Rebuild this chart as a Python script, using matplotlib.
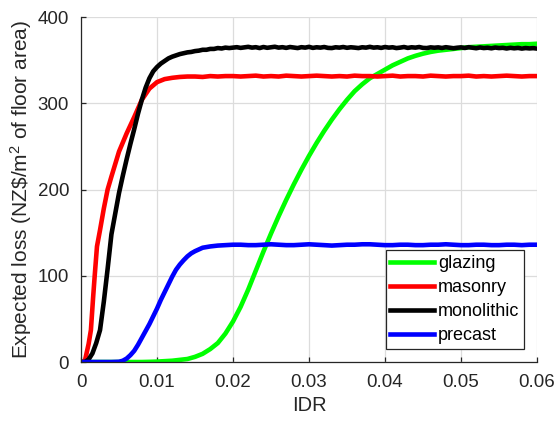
import numpy as np
import matplotlib
matplotlib.use('Agg')
import matplotlib.pyplot as plt

plt.rcParams['font.family'] = ['Liberation Sans', 'DejaVu Sans']
plt.rcParams['mathtext.fontset'] = 'custom'
plt.rcParams['mathtext.rm'] = 'Liberation Sans'
plt.rcParams['mathtext.it'] = 'Liberation Sans'

# --- data ---
# glazing, sampled every 0.001 from 0 to 0.06
glazing_x = np.linspace(0, 0.06, 61)
glazing_y = [0, 0, 0, 0, 0, 0, 0, 0, 0, 0.2,
             0.5, 1, 1.5, 2.5, 3.5, 6, 9.5, 15, 22, 33,
             47, 64, 84, 106, 128, 149, 169, 188, 206, 223,
             239, 254, 268, 281, 293, 304, 314, 322, 329, 334,
             339, 344, 348, 352, 355, 357.5, 359.5, 361, 362, 363,
             364, 365, 365.5, 366, 366.5, 367, 367.5, 368, 368.5, 368.5,
             369]

# masonry: rising part, then plateau every 0.001 from 0.02
masonry_x_rise = [0, 0.0005, 0.001, 0.0013, 0.0016, 0.0018, 0.0021, 0.0025,
                  0.003, 0.0035, 0.004, 0.005, 0.006, 0.007, 0.008, 0.009,
                  0.010, 0.011, 0.012, 0.013, 0.014, 0.015, 0.016, 0.017,
                  0.018, 0.019]
masonry_y_rise = [0, 1, 21, 37, 76, 100, 134, 153,
                  178, 200, 215, 244, 265, 284, 304, 317,
                  324.5, 328, 329.5, 330.5, 331, 331, 330.5, 331.5,
                  331, 331.5]
masonry_y_tail = [331.5, 331, 331.5, 332, 331, 331.5, 331, 332, 331.5, 331,
                  331.5, 332, 331.5, 331, 331.5, 331, 332, 331.5, 331.5, 331,
                  331.5, 332, 331, 331.5, 331.5, 331, 332, 331.5, 331, 331.5,
                  331.5, 332, 331, 331.5, 331, 331.5, 332, 331.5, 331, 331.5,
                  331.5]

# monolithic: rising part, then plateau every 0.0005 from 0.02
monolithic_x_rise = [0, 0.0005, 0.001, 0.0015, 0.002, 0.0025, 0.003, 0.0035,
                     0.004, 0.0045, 0.005, 0.0055, 0.006, 0.0065, 0.007, 0.0075,
                     0.008, 0.0085, 0.009, 0.0095, 0.010, 0.0105, 0.011, 0.0115,
                     0.012, 0.0125, 0.013, 0.0135, 0.014, 0.0145, 0.015, 0.0155,
                     0.016, 0.0165, 0.017, 0.0175, 0.018, 0.0185, 0.019, 0.0195]
monolithic_y_rise = [0, 0, 3, 10, 22, 37, 70, 108,
                     148, 172, 196, 216, 235, 253, 270, 288,
                     304, 318, 329, 337, 342, 346, 349, 352,
                     354, 355.5, 357, 358, 359, 359.5, 360.5, 361,
                     362, 362, 363, 363, 364, 363.5, 364.5, 364]
monolithic_y_tail = [364.5, 365, 364.2, 364.8, 365.4, 364.5, 365, 364, 365.2, 364.3,
                     364.9, 365.5, 364.5, 365, 364.2, 365.2, 364.6, 364, 365, 364.5,
                     365.4, 364.2, 364.9, 364.5, 365.2, 364.2, 364, 364.9, 364.5, 365.2,
                     364.3, 364.9, 364.5, 364, 364.9, 364.5, 365.4, 364.5, 364.9, 364.2,
                     365.2, 364.5, 364.9, 364, 364.5, 365.2, 364.2, 364.9, 364.5, 365.2,
                     364.2, 364, 364.8, 364.4, 364.8, 364.1, 365, 364.4, 363.8, 364.4,
                     364.8, 364.1, 365, 364.4, 363.8, 364.7, 364, 364.4, 363.7, 364.6,
                     364, 364.3, 363.5, 364.3, 363.7, 364.2, 363.4, 364, 363.6, 363.9,
                     363.4]

# precast: rising part, then plateau every 0.001 from 0.02
precast_x_rise = [0, 0.001, 0.002, 0.003, 0.004, 0.005, 0.0055, 0.006,
                  0.0065, 0.007, 0.0075, 0.008, 0.0085, 0.009, 0.0095, 0.010,
                  0.0105, 0.011, 0.0115, 0.012, 0.0125, 0.013, 0.0135, 0.014,
                  0.0145, 0.015, 0.016, 0.017, 0.018, 0.019]
precast_y_rise = [0, 0, 0, 0, 0, 0.3, 1.5, 4,
                  8, 13, 20, 28, 36, 44, 53, 62,
                  72, 81, 90, 99, 107, 113, 118, 122.5,
                  126, 128.5, 132.5, 134, 135, 135.5]
precast_y_tail = [136, 136, 135.5, 135.5, 136, 136.5, 136, 135.5, 135.5, 136,
                  136.5, 136, 135.5, 135, 135.5, 136, 136, 136.5, 136.5, 136,
                  135.5, 135.5, 136, 136, 135.5, 135.5, 136, 136, 136.5, 136,
                  135.5, 135.5, 136, 136, 135.5, 135.5, 136, 136, 135.5, 136,
                  136]

names = ['glazing', 'masonry', 'monolithic', 'precast']
colors = ['#00ff00', '#ff0000', '#000000', '#0000ff']

masonry_x = np.concatenate([masonry_x_rise, np.linspace(0.02, 0.06, len(masonry_y_tail))])
masonry_y = np.concatenate([masonry_y_rise, masonry_y_tail])
monolithic_x = np.concatenate([monolithic_x_rise, np.linspace(0.02, 0.06, len(monolithic_y_tail))])
monolithic_y = np.concatenate([monolithic_y_rise, monolithic_y_tail])
precast_x = np.concatenate([precast_x_rise, np.linspace(0.02, 0.06, len(precast_y_tail))])
precast_y = np.concatenate([precast_y_rise, precast_y_tail])

series = [(glazing_x, glazing_y), (masonry_x, masonry_y),
          (monolithic_x, monolithic_y), (precast_x, precast_y)]

# --- plot ---
fig = plt.figure(figsize=(5.58, 4.21), dpi=100)
ax = fig.add_axes([0.1452, 0.1401, 0.8172, 0.8195])

for (xs, ys), name, c in zip(series, names, colors):
    ax.plot(xs, ys, color=c, lw=3.3, label=name)

ax.set_xlim(0, 0.06)
ax.set_ylim(0, 400)
ax.set_xticks([0, 0.01, 0.02, 0.03, 0.04, 0.05, 0.06])
ax.set_xticklabels(['0', '0.01', '0.02', '0.03', '0.04', '0.05', '0.06'])
ax.set_yticks([0, 100, 200, 300, 400])

ax.grid(True, color='#dcdcdc', lw=0.9)
ax.set_axisbelow(True)
for s in ['top', 'right']:
    ax.spines[s].set_visible(False)
for s in ['left', 'bottom']:
    ax.spines[s].set_color('#262626')
    ax.spines[s].set_linewidth(0.9)
ax.tick_params(direction='in', length=3.6, width=0.9, color='#262626',
               labelsize=13.5, labelcolor='#262626', pad=8.5)

ax.set_xlabel('IDR', fontsize=14.5, color='#262626', labelpad=4)
ax.set_ylabel('Expected loss (NZ\\$/m$^{2}$ of floor area)', fontsize=15,
              color='#262626', labelpad=3)

leg = ax.legend(loc='lower right', bbox_to_anchor=(0.9715, 0.0377),
                borderaxespad=0, fontsize=13, fancybox=False, framealpha=1,
                handlelength=2.4, handletextpad=0.25, labelspacing=0.4,
                borderpad=0.25)
leg.get_frame().set_edgecolor('#262626')
leg.get_frame().set_linewidth(0.9)

fig.savefig('out.png', dpi=100)
